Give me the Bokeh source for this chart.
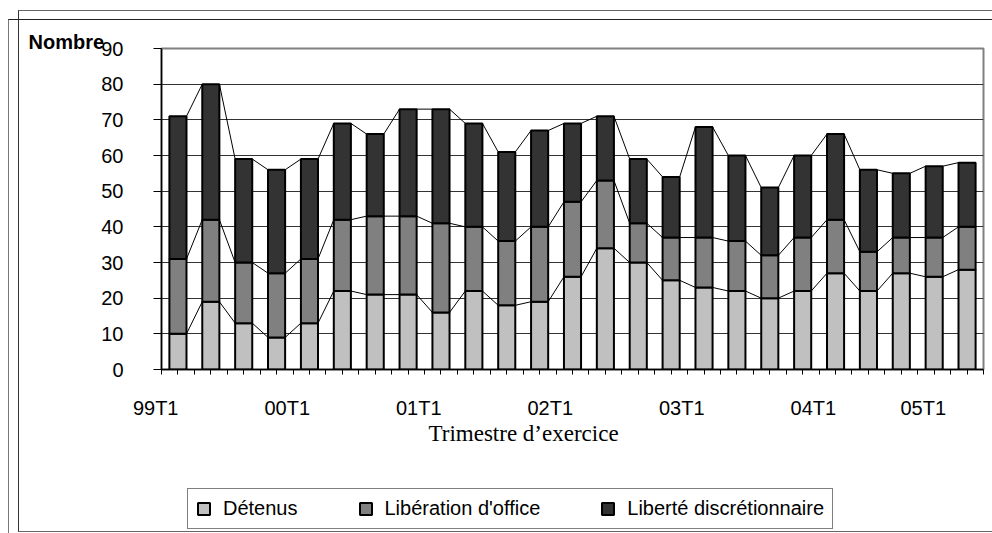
from bokeh.plotting import figure
from bokeh.layouts import column
from bokeh.models import (ColumnDataSource, FixedTicker, Legend, LegendItem, Title, Range1d,
                          InlineStyleSheet)
from bokeh.embed import file_html
from bokeh.resources import INLINE

# ---- data ----
quarters = ["99T1", "99T2", "99T3", "99T4",
            "00T1", "00T2", "00T3", "00T4",
            "01T1", "01T2", "01T3", "01T4",
            "02T1", "02T2", "02T3", "02T4",
            "03T1", "03T2", "03T3", "03T4",
            "04T1", "04T2", "04T3", "04T4",
            "05T1"]
detenus = [10, 19, 13, 9, 13, 22, 21, 21, 16, 22, 18, 19, 26, 34, 30, 25, 23, 22, 20, 22, 27, 22, 27, 26, 28]
liberation_office = [21, 23, 17, 18, 18, 20, 22, 22, 25, 18, 18, 21, 21, 19, 11, 12, 14, 14, 12, 15, 15, 11, 10, 11, 12]
liberte_discr = [40, 38, 29, 29, 28, 27, 23, 30, 32, 29, 25, 27, 22, 18, 18, 17, 31, 24, 19, 23, 24, 23, 18, 20, 18]
y_ticks = [0, 10, 20, 30, 40, 50, 60, 70, 80, 90]
series_names = ["Détenus", "Libération d'office", "Liberté discrétionnaire"]
colors = ["#C0C0C0", "#808080", "#333333"]

n = len(quarters)
xs = list(range(n))
bar_w = 0.52

src = ColumnDataSource(dict(x=xs, det=detenus, lib=liberation_office, disc=liberte_discr))

p = figure(width=990, height=465, output_backend="svg", toolbar_location=None,
           x_range=Range1d(-0.5, n - 0.5), y_range=Range1d(0, 90),
           min_border_left=161, min_border_right=7, min_border_top=48, min_border_bottom=96)
p.background_fill_color = "white"
p.border_fill_color = None
p.outline_line_color = "#808080"
p.outline_line_width = 2

renderers = p.vbar_stack(["det", "lib", "disc"], x="x", width=bar_w, source=src,
                         fill_color=colors, line_color="black", line_width=2)

# series lines between bars
cum1 = detenus
cum2 = [a + b for a, b in zip(detenus, liberation_office)]
cum3 = [a + b + c for a, b, c in zip(detenus, liberation_office, liberte_discr)]
for cum in (cum1, cum2, cum3):
    p.segment(x0=[i + bar_w / 2 for i in range(n - 1)], y0=cum[:-1],
              x1=[i + 1 - bar_w / 2 for i in range(n - 1)], y1=cum[1:],
              line_color="black", line_width=1)

# axes
p.xgrid.visible = False
p.ygrid.grid_line_color = "#333333"
p.ygrid.grid_line_width = 1
p.ygrid.ticker = FixedTicker(ticks=y_ticks)

p.yaxis.ticker = FixedTicker(ticks=y_ticks)
p.yaxis.axis_line_color = "black"
p.yaxis.axis_line_width = 1.5
p.yaxis.major_tick_out = 8
p.yaxis.major_tick_in = 0
p.yaxis.minor_tick_out = 0
p.yaxis.major_label_standoff = 30
p.yaxis.major_label_text_font = "Liberation Sans"
p.yaxis.major_label_text_font_size = "20px"
p.yaxis.major_label_text_color = "black"

pad = "\u00a0" * 8
p.xaxis.ticker = FixedTicker(ticks=xs, minor_ticks=[i - 0.5 for i in range(n + 1)])
p.xaxis.major_label_overrides = {i: (q + pad if i % 4 == 0 else "") for i, q in enumerate(quarters)}
p.xaxis.axis_line_color = "black"
p.xaxis.axis_line_width = 1.5
p.xaxis.major_tick_out = 5
p.xaxis.major_tick_in = 0
p.xaxis.minor_tick_out = 5
p.xaxis.minor_tick_in = 0
p.xaxis.major_label_standoff = 22
p.xaxis.major_label_text_font = "Liberation Sans"
p.xaxis.major_label_text_font_size = "20px"
p.xaxis.major_label_text_color = "black"

# "Nombre" at the top-left
p.add_layout(Title(text="Nombre", align="left", offset=-133, standoff=-8,
                   text_font="Liberation Sans", text_font_style="bold",
                   text_font_size="20px", text_color="black"), "above")

# x-axis title
p.add_layout(Title(text="Trimestre d\u2019exercice", align="left", offset=267, standoff=-6,
                   text_font="Liberation Serif", text_font_style="normal",
                   text_font_size="23px", text_color="black"), "below")

# legend in a separate strip below (hidden renderers only feed the legend swatches)
p2 = figure(width=990, height=66, output_backend="svg", toolbar_location=None,
            x_range=Range1d(-0.5, n - 0.5), y_range=Range1d(0, 90),
            x_axis_location=None, y_axis_location=None,
            min_border_left=0, min_border_right=0, min_border_top=0, min_border_bottom=0)
p2.grid.visible = False
p2.outline_line_color = None
p2.background_fill_color = None
p2.border_fill_color = None
proxies = p2.vbar_stack(["det", "lib", "disc"], x="x", width=bar_w, source=src,
                        fill_color=colors, line_color="black", line_width=2)
for r in proxies:
    r.visible = False
items = [LegendItem(label=series_names[k], renderers=[proxies[k]]) for k in range(3)]
legend = Legend(items=items, orientation="horizontal", location=(26, 2),
                label_text_font="Liberation Sans", label_text_font_size="20px",
                label_text_color="black", glyph_width=15, glyph_height=15,
                label_standoff=12, spacing=60, padding=8, margin=0,
                border_line_color="black", border_line_width=1,
                background_fill_color="white", background_fill_alpha=1,
                inactive_fill_alpha=0, click_policy="none")
p2.add_layout(legend, "center")

frame_css = InlineStyleSheet(css="""
:host { position: relative; }
:host::before { content: ""; position: absolute; left: 18px; top: 10px; width: 990px; height: 520px;
  border-left: 1px solid #333; border-top: 1px solid #666; border-bottom: 1px solid #666;
  pointer-events: none; z-index: 0; }
:host::after { content: ""; position: absolute; left: 8px; top: 19px; width: 990px; height: 530px;
  border-left: 1px solid #777; border-top: 1px solid #222;
  pointer-events: none; z-index: 0; }
""")

layout = column(p, p2, spacing=0, stylesheets=[frame_css])
open("out.html", "w").write(file_html(layout, INLINE))
